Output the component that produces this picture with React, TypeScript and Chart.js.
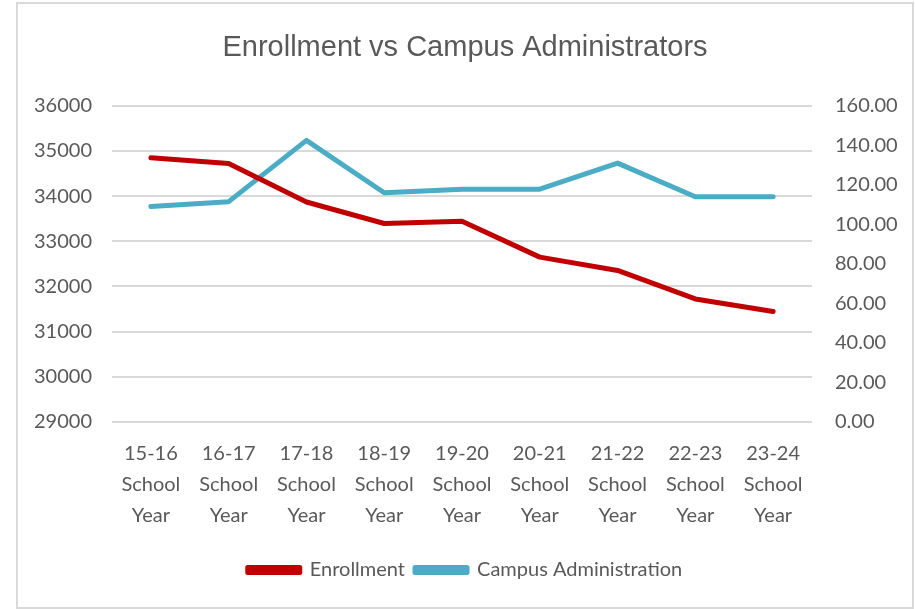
import React, { useEffect, useRef } from "react";
import { Chart, registerables } from "chart.js";

Chart.register(...registerables);

const categories: string[][] = [
  ["15-16", "School", "Year"],
  ["16-17", "School", "Year"],
  ["17-18", "School", "Year"],
  ["18-19", "School", "Year"],
  ["19-20", "School", "Year"],
  ["20-21", "School", "Year"],
  ["21-22", "School", "Year"],
  ["22-23", "School", "Year"],
  ["23-24", "School", "Year"],
];

const enrollment: number[] = [34850, 34725, 33870, 33395, 33445, 32650, 32355, 31725, 31445];
const campusAdministration: number[] = [109, 111.5, 142.5, 116, 117.8, 117.8, 131, 114, 114];

const TEXT = "#595959";
const RED = "#C00000";
const BLUE = "#4BACC6";
const GRID = "#d9d9d9";
const TICK_FONT = { family: "Lato, 'Open Sans', sans-serif", size: 20, lineHeight: 1.55 };

export default function App() {
  const ref = useRef<HTMLCanvasElement | null>(null);

  useEffect(() => {
    if (!ref.current) return;
    const chart = new Chart(ref.current, {
      type: "line",
      data: {
        labels: categories,
        datasets: [
          {
            label: "Enrollment",
            data: enrollment,
            borderColor: RED,
            backgroundColor: RED,
            borderWidth: 5,
            pointRadius: 0,
            borderCapStyle: "round",
            borderJoinStyle: "round",
            yAxisID: "y",
            tension: 0,
          },
          {
            label: "Campus Administration",
            data: campusAdministration,
            borderColor: BLUE,
            backgroundColor: BLUE,
            borderWidth: 5,
            pointRadius: 0,
            borderCapStyle: "round",
            borderJoinStyle: "round",
            yAxisID: "y1",
            tension: 0,
          },
        ],
      },
      options: {
        responsive: false,
        animation: false,
        layout: { padding: { left: 0, right: 0, top: 0, bottom: 17 } },
        plugins: {
          title: {
            display: true,
            text: "Enrollment vs Campus Administrators",
            color: TEXT,
            font: { family: "'Liberation Sans', Arial, sans-serif", size: 29, weight: "normal", lineHeight: 1.2 },
            padding: { top: 27, bottom: 40 },
          },
          legend: {
            display: true,
            position: "bottom",
            labels: {
              color: TEXT,
              font: { family: "Lato, 'Open Sans', sans-serif", size: 20 },
              boxWidth: 52,
              boxHeight: 5,
              padding: 10,
            },
          },
          tooltip: { enabled: false },
        },
        scales: {
          x: {
            offset: true,
            grid: { display: false },
            border: { display: false },
            ticks: {
              color: TEXT,
              font: TICK_FONT,
              maxRotation: 0,
              minRotation: 0,
              autoSkip: false,
              padding: 8,
            },
            afterFit: (scale: any) => {
              scale.height = 128;
            },
          },
          y: {
            position: "left",
            min: 29000,
            max: 36000,
            grid: { color: GRID, lineWidth: 2, drawTicks: false },
            border: { display: false },
            ticks: {
              stepSize: 1000,
              color: TEXT,
              font: TICK_FONT,
              padding: 20,
              callback: (v: any) => String(v),
            },
            afterFit: (scale: any) => {
              scale.width = 94;
            },
          },
          y1: {
            position: "right",
            min: 0,
            max: 160,
            grid: { display: false, drawTicks: false },
            border: { display: false },
            ticks: {
              stepSize: 20,
              color: TEXT,
              font: TICK_FONT,
              padding: 23,
              callback: (v: any) => Number(v).toFixed(2),
            },
            afterFit: (scale: any) => {
              scale.width = 100;
            },
          },
        },
      },
    });
    return () => chart.destroy();
  }, []);

  return (
    <div
      style={{
        position: "absolute",
        left: 16,
        top: 2,
        width: 898,
        height: 607,
        border: "2px solid #d9d9d9",
        boxSizing: "border-box",
        background: "#fff",
      }}
    >
      <canvas ref={ref} width={894} height={603} style={{ display: "block" }} />
    </div>
  );
}
